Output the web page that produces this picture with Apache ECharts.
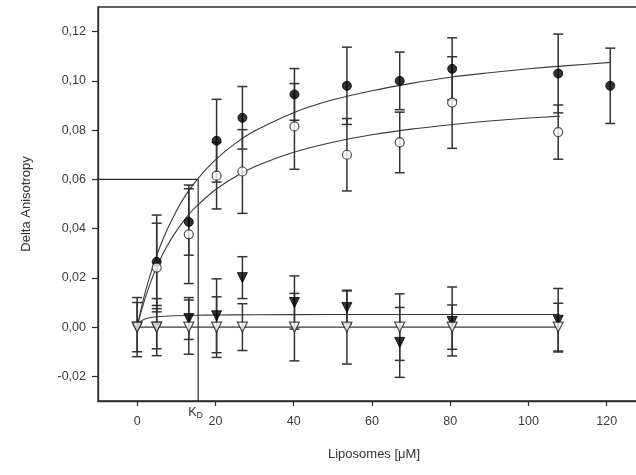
<!DOCTYPE html>
<html>
<head>
<meta charset="utf-8">
<script src="https://cdn.jsdelivr.net/npm/echarts@6/dist/echarts.min.js"></script>
<style>
  html, body { margin: 0; padding: 0; background: #fff; }
  #plot { width: 636px; height: 475px; }
</style>
</head>
<body>
<div id="plot"></div>
<script>
// 数据
var xFilledCircle = [5, 13.2, 20.3, 26.9, 40.2, 53.6, 67.1, 80.5, 107.6, 120.9];
var yFilledCircle = [0.0265, 0.0427, 0.0757, 0.085, 0.0945, 0.098, 0.100, 0.1049, 0.103, 0.098];
var eFilledCircle = [0.019, 0.0135, 0.0168, 0.0127, 0.0105, 0.0157, 0.0117, 0.0126, 0.016, 0.0153];

var xOpenCircle = [5, 13.2, 20.3, 26.9, 40.2, 53.6, 67.1, 80.5, 107.6];
var yOpenCircle = [0.0242, 0.0377, 0.0615, 0.0632, 0.0815, 0.070, 0.075, 0.0912, 0.0792];
var eOpenCircle = [0.018, 0.020, 0.0135, 0.017, 0.0174, 0.0147, 0.0123, 0.0186, 0.011];

var xFilledTri = [0, 5, 13.2, 20.3, 26.9, 40.2, 53.6, 67.1, 80.5, 107.6];
var yFilledTri = [0, 0, 0.0035, 0.0046, 0.0201, 0.010, 0.008, -0.0062, 0.0023, 0.0028];
var eFilledTri = [0.010, 0.0088, 0.0085, 0.015, 0.0085, 0.0108, 0.0067, 0.0142, 0.014, 0.0129];

var xOpenTri = [0, 5, 13.2, 20.3, 26.9, 40.2, 53.6, 67.1, 80.5, 107.6];
var yOpenTri = [0, 0, 0, 0, 0, 0, 0, 0, 0, 0];
var eOpenTri = [0.012, 0.0116, 0.011, 0.0123, 0.0095, 0.0137, 0.015, 0.0135, 0.009, 0.0097];

// 拟合曲线
var xFitUpper = [0, 1, 2, 3.5, 5, 7.5, 10, 12.5, 15.6, 20, 25, 30, 40, 50, 60, 70, 80, 90, 100, 110, 121];
var yFitUpper = [0, 0.0072, 0.0137, 0.0220, 0.0292, 0.0390, 0.0471, 0.0538, 0.0604, 0.0679, 0.0745, 0.0796, 0.0871, 0.0923, 0.0960, 0.0990, 0.1015, 0.1033, 0.1049, 0.1062, 0.1075];
var xFitLower = [0, 1, 2, 3.5, 5, 7.5, 10, 12.5, 15, 20, 25, 30, 40, 50, 60, 70, 80, 90, 100, 108];
var yFitLower = [0, 0.0061, 0.0115, 0.0185, 0.0244, 0.0325, 0.0390, 0.0444, 0.0488, 0.0558, 0.0610, 0.0651, 0.0710, 0.0751, 0.0781, 0.0804, 0.0822, 0.0837, 0.0849, 0.0857];
var xFitTri = [0, 0.3, 0.6, 1, 1.5, 2, 3, 4, 5, 7, 10, 15, 20, 30, 50, 80, 108];
var yFitTri = [0, 0.0010, 0.0017, 0.0024, 0.0029, 0.0033, 0.0037, 0.0040, 0.0042, 0.0044, 0.0046, 0.0048, 0.0049, 0.0050, 0.0051, 0.0051, 0.0051];
var xFitZero = [0, 108];
var yFitZero = [0, 0];

// K_D 标记
var kdValue = 15.6;
var kdLevel = 0.06;

var yTicks = [-0.02, 0, 0.02, 0.04, 0.06, 0.08, 0.10, 0.12];
var xTicks = [0, 20, 40, 60, 80, 100, 120];

function zip(xs, ys) { return xs.map(function (x, i) { return [x, ys[i]]; }); }
function zip3(xs, ys, es) { return xs.map(function (x, i) { return [x, ys[i], es[i]]; }); }

var ink = '#2b2b2b';

function errorBars(xs, ys, es) {
  return {
    type: 'custom',
    data: zip3(xs, ys, es),
    z: 2,
    silent: true,
    renderItem: function (params, api) {
      var x = api.value(0), y = api.value(1), e = api.value(2);
      var top = api.coord([x, y + e]);
      var bot = api.coord([x, y - e]);
      var w = 5;
      var st = { stroke: '#333', lineWidth: 1.5 };
      return {
        type: 'group',
        children: [
          { type: 'line', shape: { x1: top[0], y1: top[1], x2: bot[0], y2: bot[1] }, style: st },
          { type: 'line', shape: { x1: top[0] - w, y1: top[1], x2: top[0] + w, y2: top[1] }, style: st },
          { type: 'line', shape: { x1: bot[0] - w, y1: bot[1], x2: bot[0] + w, y2: bot[1] }, style: st }
        ]
      };
    }
  };
}

function fitLine(xs, ys) {
  return {
    type: 'line',
    data: zip(xs, ys),
    showSymbol: false,
    smooth: 0.3,
    z: 1,
    silent: true,
    lineStyle: { color: '#3a3a3a', width: 1.1 }
  };
}

var myChart = echarts.init(document.getElementById('plot'));

var option = {
  animation: false,
  grid: {
    left: 98, top: 7, width: 542, bottom: 74,
    outerBoundsMode: 'none',
    containLabel: false,
    show: true, borderColor: ink, borderWidth: 1.3
  },
  xAxis: {
    type: 'value',
    min: -10, max: 128.5,
    name: 'Liposomes [\u03bcM]',
    nameLocation: 'middle',
    nameGap: 47,
    nameTextStyle: { fontFamily: 'Liberation Sans', fontSize: 13, color: '#333', padding: [0, 0, 0, 10] },
    splitLine: { show: false },
    axisLine: { show: true, onZero: false, lineStyle: { color: ink, width: 1.3 } },
    axisTick: { show: true, length: 5, customValues: xTicks, lineStyle: { color: ink, width: 1.2 } },
    axisLabel: {
      customValues: xTicks, margin: 14,
      fontFamily: 'Liberation Sans', fontSize: 12.5, color: '#3c3c3c'
    }
  },
  yAxis: {
    type: 'value',
    min: -0.03, max: 0.13,
    name: 'Delta Anisotropy',
    nameLocation: 'middle',
    nameGap: 65,
    nameTextStyle: { fontFamily: 'Liberation Sans', fontSize: 13, color: '#333' },
    splitLine: { show: false },
    axisLine: { show: true, onZero: false, lineStyle: { color: ink, width: 1.3 } },
    axisTick: { show: true, length: 6, customValues: yTicks, lineStyle: { color: ink, width: 1.2 } },
    axisLabel: {
      customValues: yTicks, margin: 12,
      fontFamily: 'Liberation Sans', fontSize: 12.5, color: '#3c3c3c',
      formatter: function (v) { return v.toFixed(2).replace('.', ','); }
    }
  },
  series: [
    // K_D 辅助线
    {
      type: 'line',
      data: [[-10, kdLevel], [kdValue, kdLevel], [kdValue, -0.03]],
      showSymbol: false,
      z: 1,
      silent: true,
      lineStyle: { color: ink, width: 1.2 },
      endLabel: {
        show: true,
        formatter: '{k|K}{d|D}',
        offset: [-18, 12],
        rich: {
          k: { fontFamily: 'Liberation Sans', fontSize: 12.5, color: '#333' },
          d: { fontFamily: 'Liberation Sans', fontSize: 9, color: '#333', padding: [6, 0, 0, 0] }
        }
      }
    },
    fitLine(xFitUpper, yFitUpper),
    fitLine(xFitLower, yFitLower),
    fitLine(xFitTri, yFitTri),
    fitLine(xFitZero, yFitZero),
    errorBars(xFilledTri, yFilledTri, eFilledTri),
    errorBars(xOpenTri, yOpenTri, eOpenTri),
    errorBars(xFilledCircle, yFilledCircle, eFilledCircle),
    errorBars(xOpenCircle, yOpenCircle, eOpenCircle),
    {
      type: 'scatter', data: zip(xFilledTri, yFilledTri), z: 3,
      symbol: 'triangle', symbolRotate: 180, symbolSize: 10,
      itemStyle: { color: '#000', borderColor: '#000', borderWidth: 1 }
    },
    {
      type: 'scatter', data: zip(xOpenTri, yOpenTri), z: 4,
      symbol: 'triangle', symbolRotate: 180, symbolSize: 10,
      itemStyle: { color: '#fff', borderColor: '#222', borderWidth: 1.2 }
    },
    {
      type: 'scatter', data: zip(xFilledCircle, yFilledCircle), z: 5,
      symbol: 'circle', symbolSize: 9,
      itemStyle: { color: '#000', borderColor: '#000', borderWidth: 1 }
    },
    {
      type: 'scatter', data: zip(xOpenCircle, yOpenCircle), z: 6,
      symbol: 'circle', symbolSize: 9,
      itemStyle: { color: '#fff', borderColor: '#222', borderWidth: 1.2 }
    }
  ]
};

myChart.setOption(option);
</script>
</body>
</html>
